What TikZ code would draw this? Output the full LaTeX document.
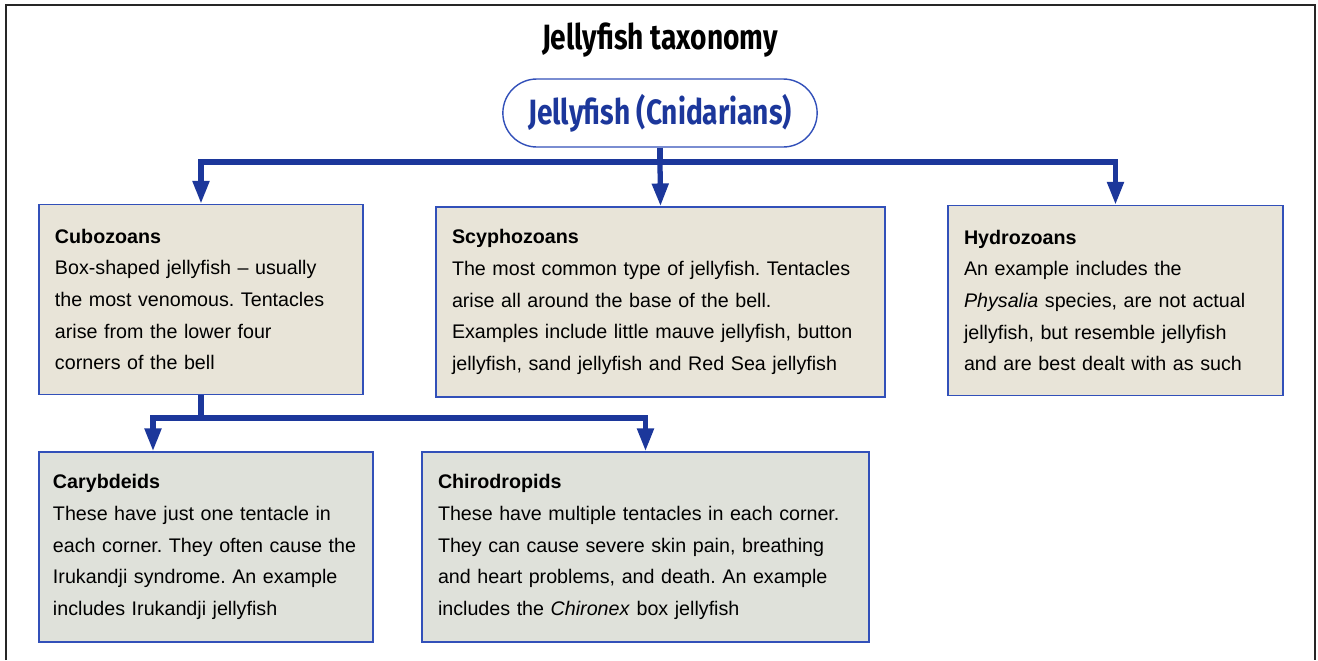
\documentclass[tikz,border=0pt]{standalone}
\usepackage{fontspec}
\setmainfont{Liberation Sans}
\newfontfamily\headfont[FakeStretch=0.8]{Fira Sans}
\usetikzlibrary{arrows.meta,shapes.misc}
\definecolor{linkblue}{RGB}{28,55,155}
\definecolor{edgeblue}{RGB}{50,80,185}
\definecolor{sand}{RGB}{232,228,216}
\definecolor{stone}{RGB}{223,225,218}

\begin{document}
\frenchspacing
\begin{tikzpicture}[x=0.2mm, y=-0.2mm,
  taxbox/.style={draw=edgeblue, line width=0.8pt, inner xsep=0.32cm, minimum height=3.8cm,
    align=left, font=\fontsize{11.2}{18}\selectfont},
  headtext/.style={font=\headfont\bfseries\fontsize{20}{24}\selectfont},
  link/.style={draw=linkblue, line width=3pt},
  arrowlink/.style={link, -{Triangle[length=13pt,width=9pt]}}]
\useasboundingbox (0,0) rectangle (1318,660);

% Frame, open at the bottom
\draw[line width=1.2pt, black!85] (6,660) -- (6,5) -- (1315,5) -- (1315,660);

% Title
\node[headtext] (title) at (660,40) {Jellyfish taxonomy};

% Root
\node[rounded rectangle, draw=edgeblue, line width=0.8pt, minimum width=6.52cm,
  minimum height=1.36cm, headtext, text=linkblue] (root) at (660,113) {Jellyfish (Cnidarians)};

% Level 1
\node[taxbox, fill=sand, minimum width=6.48cm, text width=5.84cm] (cubo) at (201,299.5)
  {\textbf{Cubozoans}\\Box-shaped jellyfish – usually\\the most venomous. Tentacles\\arise from the lower four\\corners of the bell};
\node[taxbox, fill=sand, minimum width=8.98cm, text width=8.34cm] (scy) at (660.5,302)
  {\textbf{Scyphozoans}\\The most common type of jellyfish. Tentacles\\arise all around the base of the bell.\\Examples include little mauve jellyfish, button\\jellyfish, sand jellyfish and Red Sea jellyfish};
\node[taxbox, fill=sand, minimum width=6.70cm, text width=6.06cm] (hyd) at (1115.5,300.5)
  {\textbf{Hydrozoans}\\An example includes the\\\textit{Physalia} species, are not actual\\jellyfish, but resemble jellyfish\\and are best dealt with as such};

% Level 2
\node[taxbox, fill=stone, inner xsep=0.28cm, minimum width=6.68cm, text width=6.12cm] (cary) at (206,547)
  {\textbf{Carybdeids}\\These have just one tentacle in\\each corner. They often cause the\\Irukandji syndrome. An example\\includes Irukandji jellyfish};
\node[taxbox, fill=stone, minimum width=8.94cm, text width=8.30cm] (chiro) at (645.5,547)
  {\textbf{Chirodropids}\\These have multiple tentacles in each corner.\\They can cause severe skin pain, breathing\\and heart problems, and death. An example\\includes the \textit{Chironex} box jellyfish};

% Connectors from the root
\coordinate (top) at (660,162);
\draw[link] (root.south) -- (top);
\draw[arrowlink] (top) -| (cubo.north);
\draw[arrowlink] (top) -- (scy.north);
\draw[arrowlink] (top) -| (hyd.north);

% Connectors from Cubozoans
\coordinate (mid) at (201,418);
\draw[link] (cubo.south) -- (mid);
\draw[arrowlink] (mid) -| ([xshift=-1.06cm]cary.north);
\draw[arrowlink] (mid) -| (chiro.north);

\end{tikzpicture}
\end{document}
